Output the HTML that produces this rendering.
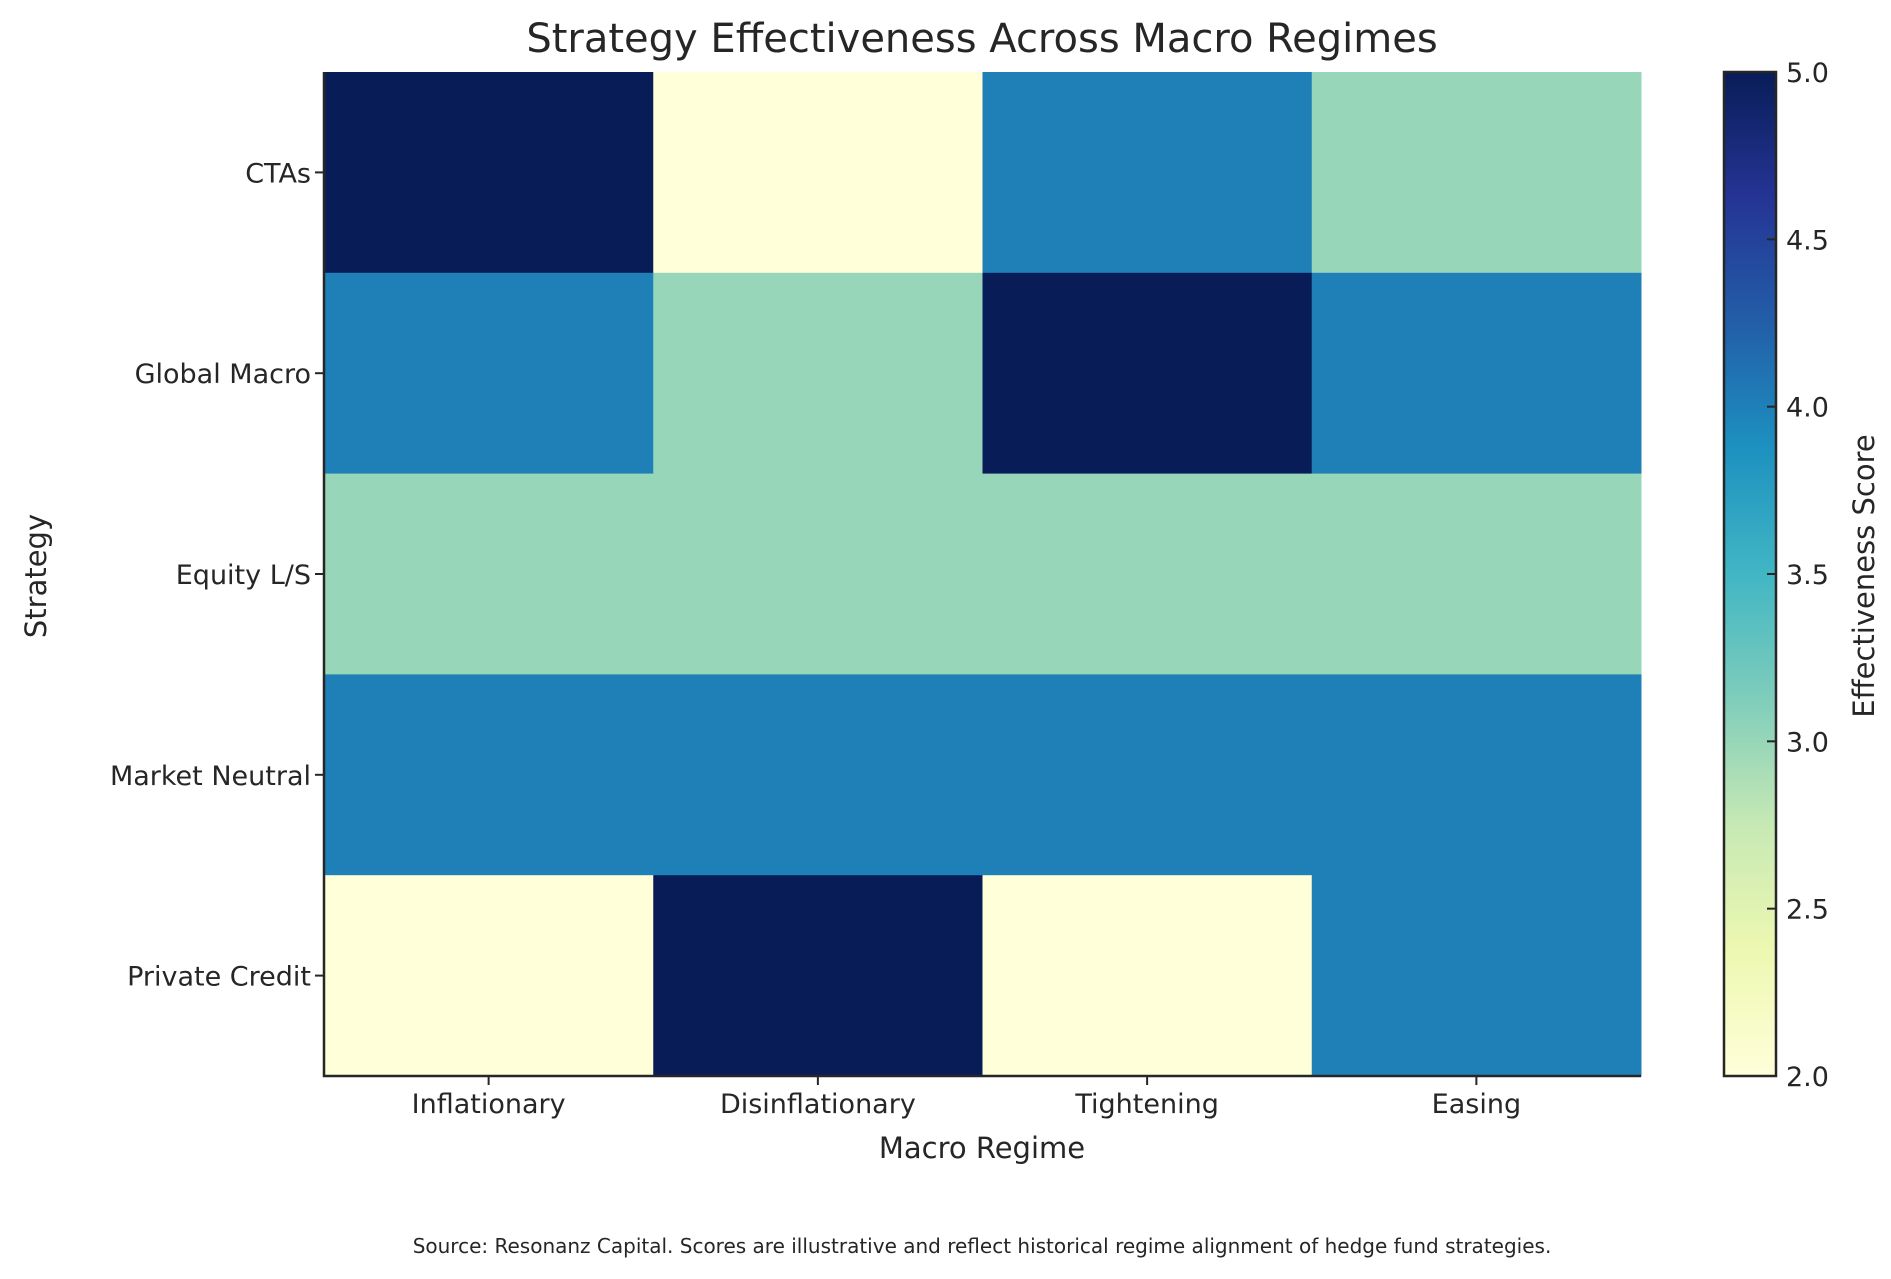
<!DOCTYPE html>
<html><head><meta charset="utf-8"><style>
html,body{margin:0;padding:0;background:#fff;}
svg text{font-family:"DejaVu Sans","Liberation Sans",sans-serif;fill:#262626;}
</style></head><body>
<svg id="chart" width="1891" height="1274" xmlns="http://www.w3.org/2000/svg">
<text x="982" y="52" font-size="40" text-anchor="middle">Strategy Effectiveness Across Macro Regimes</text>
<g id="cells"></g>
<g id="axes"></g>
<text x="982" y="1158" font-size="29" text-anchor="middle">Macro Regime</text>
<text transform="translate(46,576) rotate(-90)" font-size="29" text-anchor="middle">Strategy</text>
<defs><linearGradient id="cbgrad" x1="0" y1="1" x2="0" y2="0"></linearGradient></defs>
<rect x="1724" y="72" width="52" height="1004" fill="url(#cbgrad)" stroke="#262626" stroke-width="2.5"/>
<g id="cbticks"></g>
<text transform="translate(1874,576) rotate(-90)" font-size="29" text-anchor="middle">Effectiveness Score</text>
<text x="982" y="1253" font-size="20" text-anchor="middle">Source: Resonanz Capital. Scores are illustrative and reflect historical regime alignment of hedge fund strategies.</text>
</svg>
<script>
const regimes = ["Inflationary","Disinflationary","Tightening","Easing"];
const strategies = ["CTAs","Global Macro","Equity L/S","Market Neutral","Private Credit"];
const scores = [
  [5,2,4,3],
  [4,3,5,4],
  [3,3,3,3],
  [4,4,4,4],
  [2,5,2,4]
];
const cbTicks = [2.0,2.5,3.0,3.5,4.0,4.5,5.0];
const vmin = 2, vmax = 5;

const NS = "http://www.w3.org/2000/svg";
const L = 324, R = 1641, T = 72, B = 1076;
const cw = (R - L) / regimes.length, ch = (B - T) / strategies.length;
const xPos = i => L + i * cw;
const yPos = j => T + j * ch;
const stops = ["#ffffd9","#edf8b1","#c7e9b4","#7fcdbb","#41b6c4","#1d91c0","#225ea8","#253494","#081d58"];
function hex(h){return [1,3,5].map(k=>parseInt(h.substr(k,2),16));}
function cmap(v){
  let t = Math.max(0, Math.min(1, (v - vmin) / (vmax - vmin))) * (stops.length - 1);
  let i = Math.min(stops.length - 2, Math.floor(t)), f = t - i;
  const a = hex(stops[i]), b = hex(stops[i+1]);
  return "rgb(" + a.map((c,k)=>Math.round(c + (b[k]-c)*f)).join(",") + ")";
}
function mk(tag, attrs, parent){
  const e = document.createElementNS(NS, tag);
  for (const k in attrs) e.setAttribute(k, attrs[k]);
  parent.appendChild(e); return e;
}
const cells = document.getElementById("cells");
scores.forEach((row, j) => row.forEach((v, i) => {
  const r = mk("rect", {x: xPos(i), y: yPos(j), width: cw + 0.5, height: ch + 0.5, fill: cmap(v)}, cells);
  
  
}));
const axes = document.getElementById("axes");
const ax = mk("path", {d: `M${L},${T} L${L},${B} L${R},${B}`, fill: "none", stroke: "#262626", "stroke-width": 2.5}, axes);


regimes.forEach((r, i) => {
  const cx = xPos(i) + cw / 2;
  mk("line", {x1: cx, y1: B, x2: cx, y2: B + 9, stroke: "#262626", "stroke-width": 2}, axes);
  const t = mk("text", {x: cx, y: B + 37, "font-size": 27, "text-anchor": "middle"}, axes);
  t.textContent = r;
  
  
});
strategies.forEach((s, j) => {
  const cy = yPos(j) + ch / 2;
  mk("line", {x1: L - 9, y1: cy, x2: L, y2: cy, stroke: "#262626", "stroke-width": 2}, axes);
  const t = mk("text", {x: L - 13, y: cy + 10, "font-size": 27, "text-anchor": "end"}, axes);
  t.textContent = s;
  
  
});
const grad = document.getElementById("cbgrad");
stops.forEach((c, k) => mk("stop", {offset: (k / (stops.length - 1) * 100) + "%", "stop-color": c}, grad));
const cbt = document.getElementById("cbticks");
const cbY = v => 1076 - (v - vmin) / (vmax - vmin) * (1076 - 72);
cbTicks.forEach(v => {
  mk("line", {x1: 1767, y1: cbY(v), x2: 1776, y2: cbY(v), stroke: "#262626", "stroke-width": 2}, cbt);
  const t = mk("text", {x: 1786, y: cbY(v) + 10, "font-size": 27}, cbt);
  t.textContent = v.toFixed(1);
  
  
});
</script>
</body></html>
